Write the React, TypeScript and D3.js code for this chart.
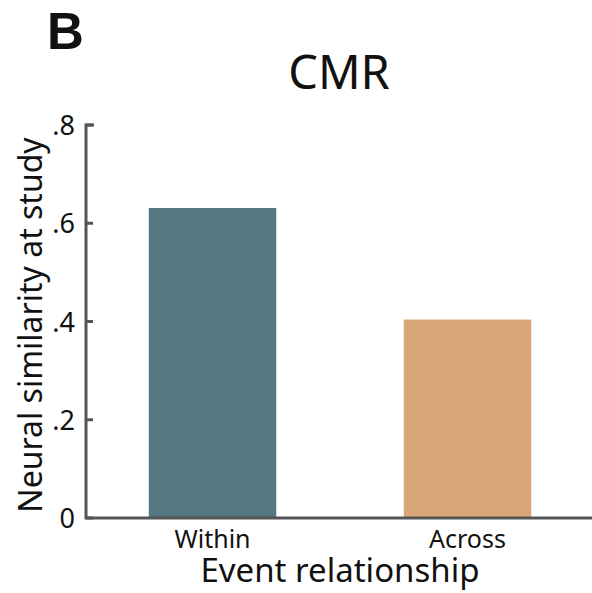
import React from "react";
import * as d3 from "d3";

const categories = ["Within", "Across"];
const values = [0.631, 0.404];
const colors = ["#557883", "#D8A677"];
const yTicks = [0, 0.2, 0.4, 0.6, 0.8];
const yTickLabels = ["0", ".2", ".4", ".6", ".8"];

export default function App() {
  const W = 592, H = 593;
  const axX = 86, baseY = 518, topY = 125, rightX = 592;
  const y = d3.scaleLinear().domain([0, 0.8]).range([baseY, topY]);
  const x = d3.scaleBand().domain(categories).range([85, 595]).paddingInner(0.5).paddingOuter(0.25);
  const font = "'Noto Sans', 'Open Sans', sans-serif";
  return (
    <svg width={W} height={H} style={{ position: "absolute", left: 0, top: 0 }}>
      <text x={47} y={49} fontFamily="'Liberation Sans', Arial, sans-serif" fontWeight="bold" fontSize={51} fill="#111">B</text>
      <text x={339} y={89} textAnchor="middle" fontFamily={font} fontSize={47} fill="#111">CMR</text>
      {categories.map((c, i) => (
        <rect key={c} x={x(c)} y={y(values[i])} width={x.bandwidth()} height={baseY - y(values[i])} fill={colors[i]} />
      ))}
      <path d={`M${axX + 8},${topY} H${axX} V${baseY} H${rightX}`} fill="none" stroke="#555" strokeWidth={3} />
      {yTicks.map((t, i) => (
        <g key={t}>
          <line x1={axX} x2={axX + 7} y1={y(t)} y2={y(t)} stroke="#555" strokeWidth={3} />
          <text x={75} y={y(t) + 10} textAnchor="end" fontFamily={font} fontSize={27} fill="#111">{yTickLabels[i]}</text>
        </g>
      ))}
      {categories.map((c) => (
        <text key={c} x={(x(c) as number) + x.bandwidth() / 2} y={548} textAnchor="middle" fontFamily={font} fontSize={25} fill="#111">{c}</text>
      ))}
      <text x={340} y={582} textAnchor="middle" fontFamily={font} fontSize={33} fill="#111">Event relationship</text>
      <text transform={`translate(42,325) rotate(-90)`} textAnchor="middle" fontFamily={font} fontSize={32} fill="#111">Neural similarity at study</text>
    </svg>
  );
}
